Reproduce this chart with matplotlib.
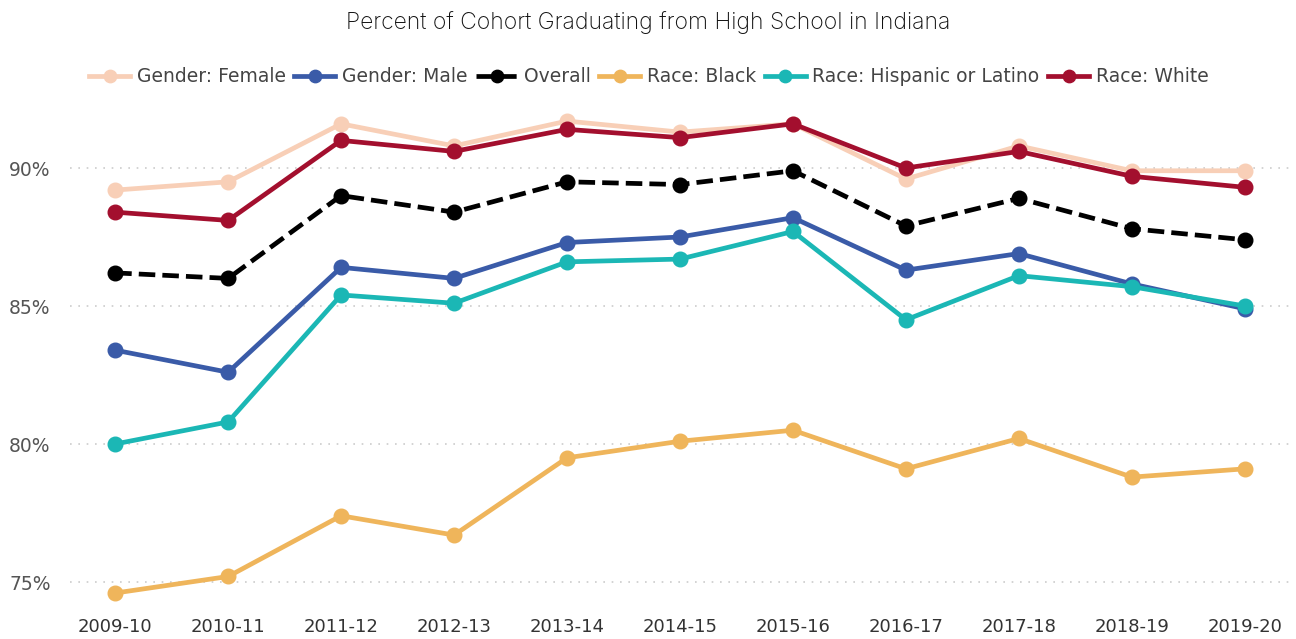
import matplotlib.pyplot as plt

# --- data ---
years = ["2009-10", "2010-11", "2011-12", "2012-13", "2013-14", "2014-15",
         "2015-16", "2016-17", "2017-18", "2018-19", "2019-20"]
female = [89.2, 89.5, 91.6, 90.8, 91.7, 91.3, 91.6, 89.6, 90.8, 89.9, 89.9]
male = [83.4, 82.6, 86.4, 86.0, 87.3, 87.5, 88.2, 86.3, 86.9, 85.8, 84.9]
overall = [86.2, 86.0, 89.0, 88.4, 89.5, 89.4, 89.9, 87.9, 88.9, 87.8, 87.4]
black = [74.6, 75.2, 77.4, 76.7, 79.5, 80.1, 80.5, 79.1, 80.2, 78.8, 79.1]
hispanic = [80.0, 80.8, 85.4, 85.1, 86.6, 86.7, 87.7, 84.5, 86.1, 85.7, 85.0]
white = [88.4, 88.1, 91.0, 90.6, 91.4, 91.1, 91.6, 90.0, 90.6, 89.7, 89.3]

series = [
    ("Gender: Female", female, "#F8CFB7", "-"),
    ("Gender: Male", male, "#3A5BA8", "-"),
    ("Overall", overall, "#000000", "--"),
    ("Race: Black", black, "#EFB55B", "-"),
    ("Race: Hispanic or Latino", hispanic, "#1BB7B5", "-"),
    ("Race: White", white, "#A30F2E", "-"),
]

fig = plt.figure(figsize=(12.96, 6.39), dpi=100)
ax = fig.add_axes([70 / 1296, 1 - 609.6 / 639, 1220 / 1296, 510.6 / 639])

x = list(range(len(years)))
for name, vals, col, ls in series:
    ax.plot(x, vals, color=col, linestyle=ls, linewidth=3.4, marker="o",
            markersize=10.5, label=name, dashes=(3.5, 1.5) if ls == "--" else (None, None))

ax.set_xlim(-0.4, 10.4)
ax.set_ylim(74.0, 92.5)
ax.set_xticks(x)
ax.set_xticklabels(years, fontsize=13, color="#333333")
ax.set_yticks([75, 80, 85, 90])
ax.set_yticklabels(["75%", "80%", "85%", "90%"], fontsize=13.5, color="#555555")
ax.tick_params(axis="x", length=0, pad=6)
ax.tick_params(axis="y", length=0, pad=14)
ax.grid(axis="y", linestyle=(0, (1, 4)), color="#cccccc", linewidth=1.2)
for s in ax.spines.values():
    s.set_visible(False)

fig.text(0.5, 0.965, "Percent of Cohort Graduating from High School in Indiana",
         ha="center", va="center", fontsize=16.5, family="Inter", fontweight="light",
         color="#111111")

leg = fig.legend(loc="center left", bbox_to_anchor=(72 / 1296, 1 - 77 / 639), ncol=6,
                 frameon=False, fontsize=13.5, handlelength=2.2, handletextpad=0.35,
                 columnspacing=0.45, markerscale=0.85)
for t in leg.get_texts():
    t.set_color("#444444")

plt.savefig("out.png", dpi=100)
